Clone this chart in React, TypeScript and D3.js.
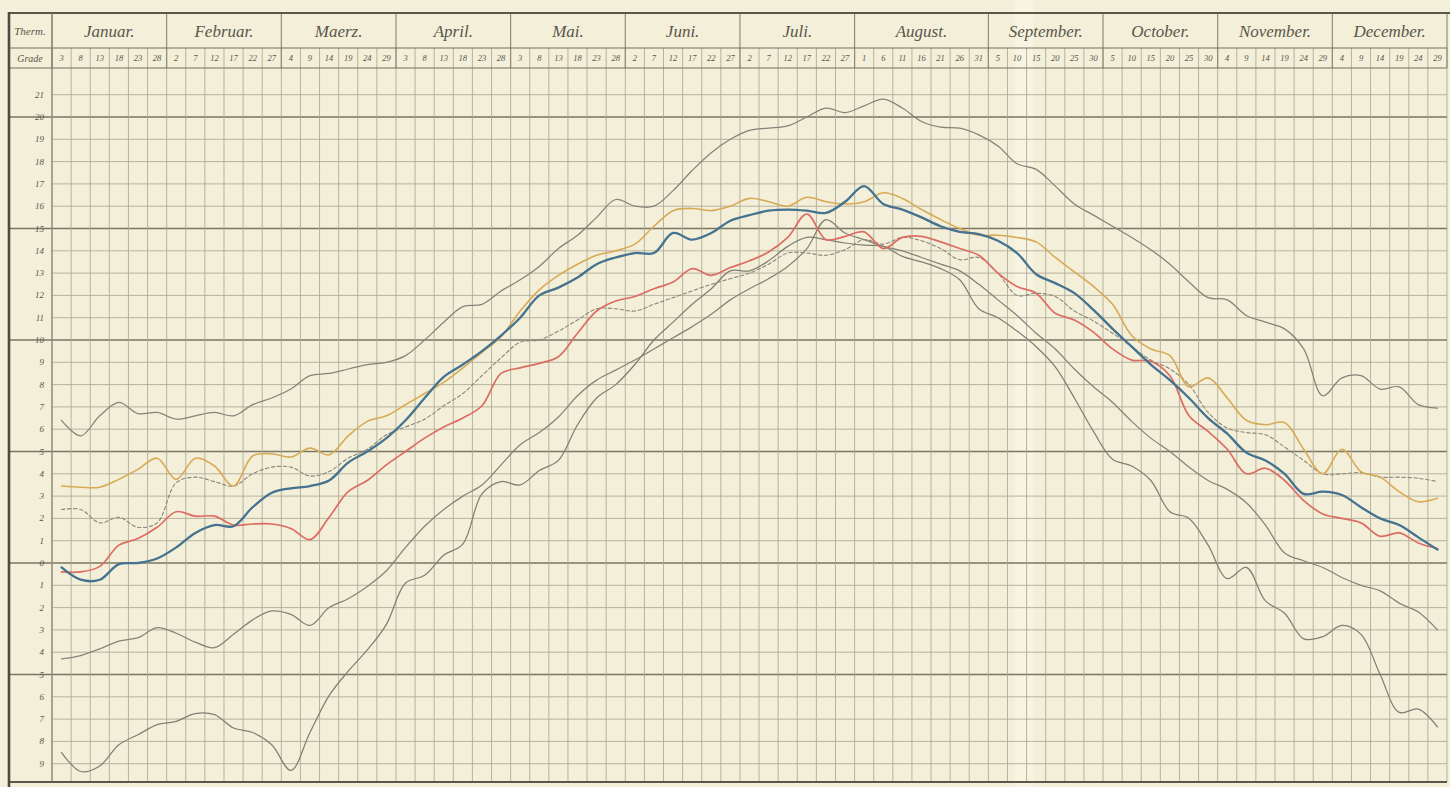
import React from 'react';
import * as d3 from 'd3';

// month names and the pentad days printed under them
const months = ['Januar.', 'Februar.', 'Maerz.', 'April.', 'Mai.', 'Juni.', 'Juli.', 'August.', 'September.', 'October.', 'November.', 'December.'];
const pentadDays = [
  [3, 8, 13, 18, 23, 28],
  [2, 7, 12, 17, 22, 27],
  [4, 9, 14, 19, 24, 29],
  [3, 8, 13, 18, 23, 28],
  [3, 8, 13, 18, 23, 28],
  [2, 7, 12, 17, 22, 27],
  [2, 7, 12, 17, 22, 27],
  [1, 6, 11, 16, 21, 26, 31],
  [5, 10, 15, 20, 25, 30],
  [5, 10, 15, 20, 25, 30],
  [4, 9, 14, 19, 24, 29],
  [4, 9, 14, 19, 24, 29],
];
const degreeTicks = d3.range(-9, 22);

// temperature curves, one value per pentad (73)
const grayTop = [
  6.4, 5.7, 6.6, 7.2, 6.7, 6.75, 6.45, 6.6, 6.75, 6.6, 7.1, 7.4, 7.8, 8.4, 8.5, 8.7, 8.9, 9.0, 9.3, 10.0,
  10.8, 11.5, 11.6, 12.2, 12.7, 13.3, 14.1, 14.7, 15.5, 16.3, 16.0, 16.0, 16.7, 17.6, 18.4, 19.0, 19.4, 19.5, 19.6, 20.0,
  20.4, 20.2, 20.5, 20.8, 20.4, 19.8, 19.55, 19.5, 19.2, 18.7, 17.9, 17.65, 16.9, 16.1, 15.6, 15.1, 14.6, 14.05, 13.4, 12.6,
  11.9, 11.8, 11.1, 10.8, 10.5, 9.6, 7.5, 8.3, 8.4, 7.8, 7.9, 7.1, 6.95,
];
const ochre = [
  3.45, 3.4, 3.4, 3.75, 4.2, 4.7, 3.75, 4.7, 4.35, 3.45, 4.8, 4.9, 4.75, 5.15, 4.85, 5.7, 6.35, 6.6, 7.1, 7.6,
  8.1, 8.75, 9.45, 10.15, 11.3, 12.25, 12.9, 13.4, 13.8, 14.0, 14.3, 15.1, 15.8, 15.9, 15.8, 16.0, 16.35, 16.2, 16.0, 16.4,
  16.2, 16.1, 16.2, 16.6, 16.35, 15.85, 15.4, 15.0, 14.7, 14.7, 14.6, 14.4, 13.7, 13.05, 12.4, 11.6, 10.2, 9.6, 9.3, 7.9,
  8.3, 7.4, 6.4, 6.2, 6.3, 5.1, 4.0, 5.1, 4.1, 3.85, 3.2, 2.75, 2.9,
];
const grayDashed = [
  2.4, 2.4, 1.8, 2.05, 1.6, 1.8, 3.6, 3.85, 3.65, 3.45, 4.0, 4.3, 4.3, 3.9, 4.1, 4.7, 5.1, 5.75, 6.1, 6.45,
  7.05, 7.6, 8.4, 9.2, 9.9, 10.0, 10.4, 10.9, 11.4, 11.4, 11.3, 11.6, 11.9, 12.2, 12.5, 12.75, 13.0, 13.4, 13.9, 13.9,
  13.8, 14.05, 14.5, 14.3, 14.6, 14.45, 14.1, 13.6, 13.7, 13.0, 12.0, 12.1, 11.95, 11.3, 10.85, 10.3, 9.7, 9.1, 8.7, 8.0,
  6.75, 6.05, 5.85, 5.75, 5.2, 4.6, 4.0, 4.0, 4.05, 3.85, 3.85, 3.8, 3.65,
];
const blue = [
  -0.2, -0.75, -0.75, -0.05, 0.0, 0.2, 0.7, 1.35, 1.7, 1.65, 2.5, 3.15, 3.35, 3.45, 3.7, 4.5, 5.0, 5.6, 6.4, 7.4,
  8.35, 8.9, 9.5, 10.2, 11.0, 12.0, 12.35, 12.8, 13.4, 13.7, 13.9, 13.9, 14.8, 14.5, 14.8, 15.35, 15.6, 15.8, 15.85, 15.8,
  15.7, 16.2, 16.9, 16.1, 15.85, 15.5, 15.1, 14.85, 14.75, 14.45, 13.9, 12.95, 12.55, 12.1, 11.35, 10.5, 9.7, 8.9, 8.2, 7.4,
  6.5, 5.8, 4.95, 4.6, 4.0, 3.1, 3.2, 3.05, 2.5, 2.0, 1.7, 1.15, 0.6,
];
const red = [
  -0.4, -0.4, -0.15, 0.8, 1.1, 1.6, 2.3, 2.1, 2.1, 1.7, 1.75, 1.75, 1.55, 1.05, 2.05, 3.2, 3.7, 4.4, 5.0, 5.6,
  6.1, 6.5, 7.05, 8.5, 8.75, 8.95, 9.25, 10.3, 11.3, 11.75, 11.95, 12.3, 12.6, 13.2, 12.9, 13.25, 13.55, 13.95, 14.6, 15.65,
  14.5, 14.65, 14.85, 14.1, 14.6, 14.65, 14.4, 14.1, 13.8, 13.0, 12.4, 12.1, 11.2, 10.9, 10.35, 9.6, 9.1, 9.05, 8.4, 6.6,
  5.9, 5.1, 4.0, 4.25, 3.7, 2.8, 2.2, 2.0, 1.8, 1.2, 1.35, 0.9, 0.65,
];
const grayMid = [
  -4.3, -4.15, -3.85, -3.5, -3.35, -2.9, -3.15, -3.55, -3.8, -3.2, -2.55, -2.15, -2.3, -2.8, -2.0, -1.6, -1.05, -0.35, 0.7, 1.65,
  2.4, 3.0, 3.5, 4.4, 5.3, 5.85, 6.55, 7.5, 8.2, 8.65, 9.1, 9.6, 10.1, 10.6, 11.15, 11.8, 12.3, 12.75, 13.3, 14.1,
  15.4, 14.8, 14.5, 14.2, 14.0, 13.7, 13.4, 13.1, 12.5, 11.8, 11.1, 10.3, 9.6, 8.7, 7.9, 7.2, 6.35, 5.6, 5.0, 4.3,
  3.7, 3.3, 2.7, 1.7, 0.45, 0.1, -0.2, -0.65, -1.0, -1.25, -1.8, -2.2, -3.0,
];
const grayLow = [
  -8.5, -9.35, -9.1, -8.15, -7.7, -7.25, -7.1, -6.75, -6.8, -7.4, -7.6, -8.15, -9.3, -7.6, -5.95, -4.85, -3.9, -2.75, -0.9, -0.55,
  0.35, 0.85, 3.1, 3.65, 3.5, 4.15, 4.6, 6.2, 7.4, 8.0, 8.9, 10.0, 10.8, 11.6, 12.3, 13.1, 13.1, 13.55, 14.2, 14.6,
  14.5, 14.35, 14.25, 14.2, 13.75, 13.5, 13.2, 12.7, 11.4, 11.0, 10.4, 9.7, 8.8, 7.4, 5.9, 4.65, 4.35, 3.7, 2.3, 2.0,
  0.8, -0.7, -0.2, -1.7, -2.25, -3.4, -3.3, -2.8, -3.2, -5.0, -6.7, -6.55, -7.35,
];

const W = 1450;
const H = 787;
const frameLeft = 9;
const frameTop = 13;
const rowSplit = 48;
const gridTop = 68;
const gridBottom = 782;
const plotLeft = 52;
const plotRight = 1447;

const paper = '#f3efd9';
const ink = '#5a564a';
const gridColor = '#aca893';

const App = () => {
  const nPentads = d3.sum(pentadDays, (d) => d.length);
  const xCol = d3.scaleLinear().domain([0, nPentads]).range([plotLeft, plotRight]);
  const y = d3.scaleLinear().domain([0, 20]).range([563, 117]);

  const line = d3
    .line<number>()
    .x((_, i) => xCol(i + 0.5))
    .y((d) => y(d))
    .curve(d3.curveCatmullRom.alpha(0.5));

  // month start column index
  const monthStarts: number[] = [];
  let acc = 0;
  pentadDays.forEach((m) => {
    monthStarts.push(acc);
    acc += m.length;
  });
  const dayLabels = pentadDays.flat();

  const series = [
    { data: grayTop, color: '#858378', width: 1.25, dash: null },
    { data: grayLow, color: '#807f75', width: 1.25, dash: null },
    { data: grayMid, color: '#858378', width: 1.25, dash: null },
    { data: grayDashed, color: '#8a867a', width: 1.1, dash: '3.5,2.5' },
    { data: ochre, color: '#d8aa55', width: 1.6, dash: null },
    { data: red, color: '#dd6c62', width: 1.7, dash: null },
    { data: blue, color: '#44728f', width: 2.3, dash: null },
  ];

  return (
    <svg
      width={W}
      height={H}
      style={{ position: 'absolute', left: 0, top: 0, display: 'block' }}
      fontFamily="'Liberation Serif', serif"
    >
      <rect width={W} height={H} fill={paper} />
      {/* lighter fold of the paper */}
      <rect x={1015} y={0} width={18} height={H} fill="#fbf9ec" opacity={0.5} />

      {/* horizontal degree lines */}
      {degreeTicks.map((t) => {
        const heavy = t % 5 === 0;
        return (
          <line
            key={'h' + t}
            x1={heavy ? frameLeft : plotLeft}
            x2={plotRight}
            y1={y(t)}
            y2={y(t)}
            stroke={heavy ? '#7a7664' : gridColor}
            strokeWidth={heavy ? 1.3 : 0.85}
          />
        );
      })}

      {/* vertical pentad lines */}
      {d3.range(0, nPentads + 1).map((k) => (
        <line
          key={'v' + k}
          x1={xCol(k)}
          x2={xCol(k)}
          y1={rowSplit}
          y2={gridBottom}
          stroke={gridColor}
          strokeWidth={0.85}
        />
      ))}
      {/* month separators in the header */}
      {monthStarts.concat([nPentads]).map((k) => (
        <line
          key={'m' + k}
          x1={xCol(k)}
          x2={xCol(k)}
          y1={frameTop}
          y2={gridTop}
          stroke="#8a866f"
          strokeWidth={1.1}
        />
      ))}

      {/* frame and header rules */}
      <line x1={frameLeft} x2={W} y1={frameTop} y2={frameTop} stroke={ink} strokeWidth={2} />
      <line x1={frameLeft} x2={plotRight} y1={rowSplit} y2={rowSplit} stroke="#757160" strokeWidth={1.2} />
      <line x1={frameLeft} x2={plotRight} y1={gridTop} y2={gridTop} stroke="#757160" strokeWidth={1.2} />
      <line x1={frameLeft} x2={plotRight} y1={gridBottom} y2={gridBottom} stroke={ink} strokeWidth={1.8} />
      <line x1={frameLeft} x2={frameLeft} y1={frameTop - 1} y2={H} stroke="#4e4a3f" strokeWidth={2.6} />
      <line x1={plotLeft} x2={plotLeft} y1={frameTop} y2={gridBottom} stroke="#827e6d" strokeWidth={1.1} />

      {/* header text */}
      <text x={30} y={35} textAnchor="middle" fontStyle="italic" fontSize={11} fill={ink}>
        Therm.
      </text>
      <text x={30} y={62} textAnchor="middle" fontStyle="italic" fontSize={10} fill={ink}>
        Grade
      </text>
      {months.map((m, i) => {
        const x0 = xCol(monthStarts[i]);
        const x1 = xCol(monthStarts[i] + pentadDays[i].length);
        return (
          <text
            key={m}
            x={(x0 + x1) / 2}
            y={37}
            textAnchor="middle"
            fontStyle="italic"
            fontSize={17}
            fill={ink}
          >
            {m}
          </text>
        );
      })}
      {dayLabels.map((d, i) => (
        <text
          key={'d' + i}
          x={xCol(i + 0.5)}
          y={61}
          textAnchor="middle"
          fontStyle="italic"
          fontSize={8.5}
          fill={ink}
        >
          {d}
        </text>
      ))}

      {/* degree labels */}
      {degreeTicks.map((t) => (
        <text
          key={'l' + t}
          x={44}
          y={y(t) + 3}
          textAnchor="end"
          fontStyle="italic"
          fontSize={9}
          fill={ink}
        >
          {Math.abs(t)}
        </text>
      ))}

      {/* curves */}
      <g fill="none" strokeLinejoin="round" strokeLinecap="round">
        {series.map((s, i) => (
          <path
            key={'s' + i}
            d={line(s.data) || ''}
            stroke={s.color}
            strokeWidth={s.width}
            strokeDasharray={s.dash || undefined}
          />
        ))}
      </g>
    </svg>
  );
};

export default App;
